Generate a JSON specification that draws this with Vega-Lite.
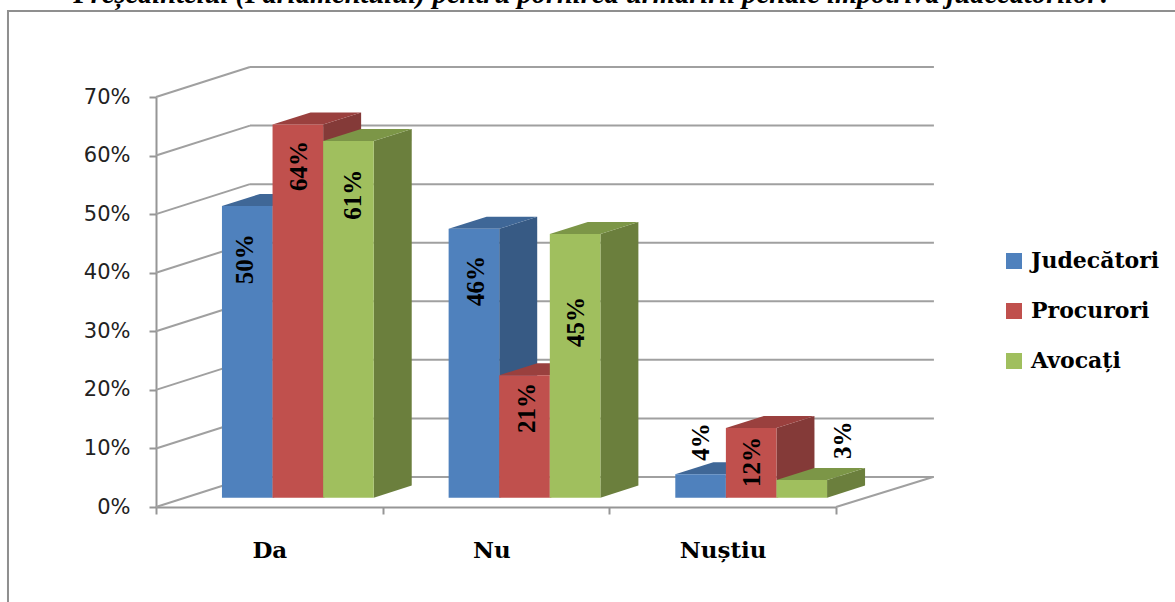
{
"$schema":"https://vega.github.io/schema/vega-lite/v6.json",
"width":680,"height":410,
"autosize":"none",
"padding":{"left":156,"top":97,"right":339,"bottom":95},
"background":"white",
"config":{"view":{"stroke":null}},
"datasets":{
"bars":[
{"group":"Da","series":"Judecători","value":49.8},
{"group":"Da","series":"Procurori","value":63.7},
{"group":"Da","series":"Avocați","value":60.9},
{"group":"Nu","series":"Judecători","value":45.9},
{"group":"Nu","series":"Procurori","value":20.9},
{"group":"Nu","series":"Avocați","value":45},
{"group":"Nuștiu","series":"Judecători","value":4},
{"group":"Nuștiu","series":"Procurori","value":11.9},
{"group":"Nuștiu","series":"Avocați","value":3}
],
"ticks":[{"tick":0},{"tick":10},{"tick":20},{"tick":30},{"tick":40},{"tick":50},{"tick":60},{"tick":70}]
},
"layer":[
{"data":{"values":[{"caption":"Președintelui (Parlamentului) pentru pornirea urmăririi penale împotriva judecătorilor?"}]},
 "mark":{"type":"text","align":"center","baseline":"alphabetic","font":"Liberation Serif","fontStyle":"italic","fontWeight":"bold","fontSize":28.5,"color":"black"},
 "encoding":{
  "x":{"datum":1.928,"type":"quantitative","scale":{"domain":[0,3],"nice":false,"zero":false}},
  "y":{"datum":86.05,"type":"quantitative","scale":{"domain":[0,70],"nice":false,"zero":false}},
  "text":{"field":"caption"}
 }},
{"data":{"values":[{"part":"frame"}]},
 "mark":{"type":"rect","fill":null,"stroke":"#8f8f8f","strokeWidth":2},
 "encoding":{
  "x":{"datum":-0.653,"type":"quantitative","scale":{"domain":[0,3],"nice":false,"zero":false}},
  "x2":{"datum":4.52},
  "y":{"datum":84.7,"type":"quantitative","scale":{"domain":[0,70],"nice":false,"zero":false}},
  "y2":{"datum":-17.6}
 }},
{"data":{"name":"ticks"},
 "transform":[{"calculate":"datum.tick + 5.12","as":"back"}],
 "mark":{"type":"rule","color":"#a0a0a0","strokeWidth":2},
 "encoding":{
  "x":{"datum":0,"type":"quantitative","scale":{"domain":[0,3],"nice":false,"zero":false}},
  "x2":{"datum":0.4147},
  "y":{"field":"tick","type":"quantitative","scale":{"domain":[0,70],"nice":false,"zero":false}},
  "y2":{"field":"back"}
 }},
{"data":{"name":"ticks"},
 "transform":[{"calculate":"datum.tick + 5.12","as":"back"}],
 "mark":{"type":"rule","color":"#a0a0a0","strokeWidth":2},
 "encoding":{
  "x":{"datum":0.4147,"type":"quantitative","scale":{"domain":[0,3],"nice":false,"zero":false}},
  "x2":{"datum":3.432},
  "y":{"field":"back","type":"quantitative","scale":{"domain":[0,70],"nice":false,"zero":false}}
 }},
{"data":{"values":[{"part":"floor"}]},
 "mark":{"type":"rule","color":"#a0a0a0","strokeWidth":2},
 "encoding":{
  "x":{"datum":3,"type":"quantitative","scale":{"domain":[0,3],"nice":false,"zero":false}},
  "x2":{"datum":3.428},
  "y":{"datum":0,"type":"quantitative","scale":{"domain":[0,70],"nice":false,"zero":false}},
  "y2":{"datum":5.12}
 }},
{"data":{"name":"bars"},
 "transform":[
  {"calculate":"indexof(['Da','Nu','Nuștiu'],datum.group)+0.291+indexof(['Judecători','Procurori','Avocați'],datum.series)*0.2232","as":"x0"},
  {"calculate":"[0,1]","as":"t"},{"flatten":["t"]},
  {"calculate":"datum.x0+0.2232+datum.t*0.1676","as":"sx"},
  {"calculate":"1.6+datum.t*2.05","as":"sy"},
  {"calculate":"1.6+datum.value+datum.t*2.05","as":"sy2"}
 ],
 "mark":{"type":"area","interpolate":"linear"},
 "encoding":{
  "x":{"field":"sx","type":"quantitative","scale":{"domain":[0,3],"nice":false,"zero":false}},
  "y":{"field":"sy","type":"quantitative","stack":null,"scale":{"domain":[0,70],"nice":false,"zero":false}},
  "y2":{"field":"sy2"},
  "color":{"field":"series","type":"nominal","legend":null,"scale":{"domain":["Judecători","Procurori","Avocați"],"range":["#375A84","#843A38","#6B7F3D"]}},
  "detail":{"field":"group"}
 }},
{"data":{"name":"bars"},
 "transform":[
  {"calculate":"indexof(['Da','Nu','Nuștiu'],datum.group)+0.291+indexof(['Judecători','Procurori','Avocați'],datum.series)*0.2232","as":"x0"},
  {"calculate":"[0,1]","as":"t"},{"flatten":["t"]},
  {"calculate":"datum.x0+datum.t*0.1676","as":"tx"},
  {"calculate":"datum.x0+0.2232+datum.t*0.1676","as":"tx2"},
  {"calculate":"1.6+datum.value+datum.t*2.05","as":"ty"}
 ],
 "mark":{"type":"area","orient":"horizontal","interpolate":"linear"},
 "encoding":{
  "y":{"field":"ty","type":"quantitative","scale":{"domain":[0,70],"nice":false,"zero":false}},
  "x":{"field":"tx","type":"quantitative","stack":null,"scale":{"domain":[0,3],"nice":false,"zero":false}},
  "x2":{"field":"tx2"},
  "color":{"field":"series","type":"nominal","legend":null,"scale":{"domain":["Judecători","Procurori","Avocați"],"range":["#3F6797","#9A403E","#7C9647"]}},
  "detail":{"field":"group"}
 }},
{"data":{"name":"bars"},
 "transform":[
  {"calculate":"indexof(['Da','Nu','Nuștiu'],datum.group)+0.291+indexof(['Judecători','Procurori','Avocați'],datum.series)*0.2232","as":"x0"},
  {"calculate":"datum.x0+0.2232","as":"x1"},
  {"calculate":"1.6","as":"y0"},
  {"calculate":"1.6+datum.value","as":"y1"}
 ],
 "mark":{"type":"rect"},
 "encoding":{
  "x":{"field":"x0","type":"quantitative","scale":{"domain":[0,3],"nice":false,"zero":false},"axis":{"values":[0,0.5,1,1.48,2,2.5,3],"title":null,"grid":false,"domainColor":"#969696","domainWidth":2,"tickColor":"#969696","tickWidth":2,"tickSize":7,"tickOpacity":{"condition":{"test":"datum.value % 1 == 0","value":1},"value":0},"labelAngle":0,"labelOverlap":false,"labelFlush":false,"labelFont":"DejaVu Serif","labelFontWeight":"bold","labelFontSize":23,"labelColor":"black","labelPadding":25,"labelExpr":"datum.value == 0.5 ? 'Da' : datum.value == 1.48 ? 'Nu' : datum.value == 2.5 ? 'Nuștiu' : ''"}},
  "x2":{"field":"x1"},
  "y":{"field":"y0","type":"quantitative","scale":{"domain":[0,70],"nice":false,"zero":false},"axis":{"values":[0,10,20,30,40,50,60,70],"title":null,"grid":false,"domainColor":"#969696","domainWidth":2,"tickColor":"#969696","tickWidth":2,"tickSize":7,"labelFont":"DejaVu Sans","labelFontSize":21,"labelColor":"#222222","labelPadding":19,"labelExpr":"datum.value + '%'"}},
  "y2":{"field":"y1"},
  "color":{"field":"series","type":"nominal","sort":null,"scale":{"domain":["Judecători","Procurori","Avocați"],"range":["#4F81BD","#C0504D","#A0BF5E"]},
   "legend":{"title":null,"orient":"none","legendX":847,"legendY":153,"symbolType":"square","symbolSize":256,"symbolStrokeWidth":0,"symbolOpacity":1,"labelFont":"DejaVu Serif","labelFontWeight":"bold","labelFontSize":22,"labelColor":"black","labelOffset":6,"rowPadding":28,"padding":0,"labelLimit":200}}
 }},
{"data":{"name":"bars"},
 "transform":[
  {"calculate":"indexof(['Da','Nu','Nuștiu'],datum.group)+0.291+indexof(['Judecători','Procurori','Avocați'],datum.series)*0.2232+0.1116+({'Da|Judecători':-0.01,'Da|Procurori':0.004,'Da|Avocați':0.022,'Nu|Judecători':0.009,'Nu|Procurori':0.009,'Nu|Avocați':0.004,'Nuștiu|Judecători':0,'Nuștiu|Procurori':0.004,'Nuștiu|Avocați':0.18}[datum.group+'|'+datum.series])","as":"lx"},
  {"calculate":"{'Da|Judecători':42.3,'Da|Procurori':58.2,'Da|Avocați':53.3,'Nu|Judecători':38.6,'Nu|Procurori':16.9,'Nu|Avocați':31.6,'Nuștiu|Judecători':11.1,'Nuștiu|Procurori':7.7,'Nuștiu|Avocați':11.4}[datum.group+'|'+datum.series]","as":"ly"},
  {"calculate":"format(datum.value,'.0f')+'%'","as":"lab"}
 ],
 "mark":{"type":"text","angle":270,"align":"center","baseline":"middle","font":"Liberation Serif","fontWeight":"bold","fontSize":25,"color":"black"},
 "encoding":{
  "x":{"field":"lx","type":"quantitative","scale":{"domain":[0,3],"nice":false,"zero":false}},
  "y":{"field":"ly","type":"quantitative","scale":{"domain":[0,70],"nice":false,"zero":false}},
  "text":{"field":"lab"}
 }}
],
"resolve":{"scale":{"color":"independent"}}
}
